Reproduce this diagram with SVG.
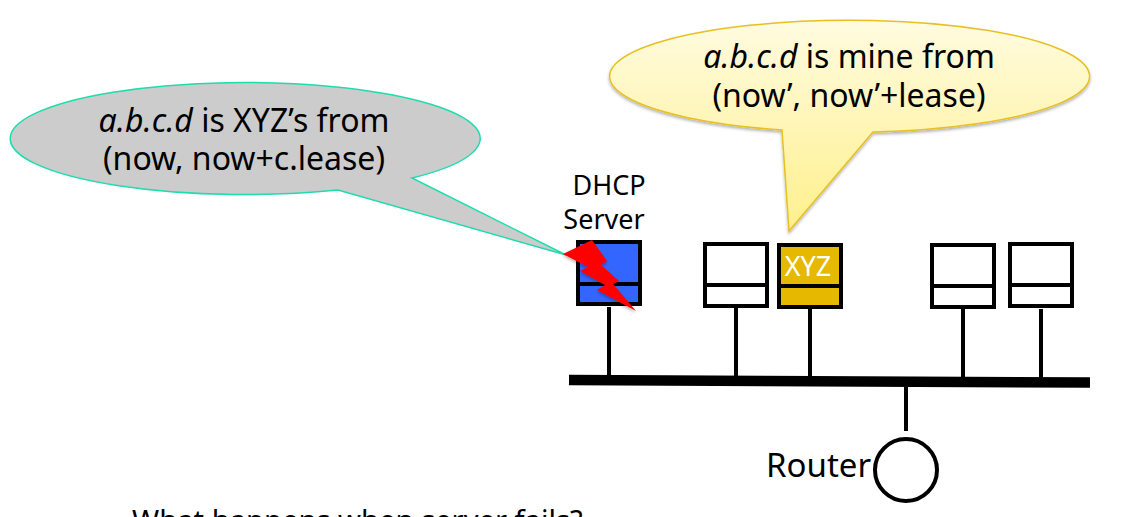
<svg xmlns="http://www.w3.org/2000/svg" width="1121" height="517" viewBox="0 0 1121 517">
<style>
text{font-family:"Noto Sans","DejaVu Sans",sans-serif;fill:#000}
.t{font-size:32px;text-anchor:middle}
.s{font-size:27px;text-anchor:middle}
.box{stroke:#000;stroke-width:4}
.ln{stroke:#000;stroke-width:4;fill:none}
</style>
<defs>
<linearGradient id="yg" x1="0" y1="0" x2="0" y2="1"><stop offset="0" stop-color="#fffbe0"/><stop offset="1" stop-color="#fff08c"/></linearGradient>
<filter id="sh" x="-5%" y="-5%" width="110%" height="115%"><feDropShadow dx="0" dy="2" stdDeviation="1.5" flood-color="#000" flood-opacity="0.3"/></filter>
</defs>
<rect width="1121" height="517" fill="#fff"/>
<g id="connectors">
<line class="ln" x1="609" y1="307" x2="609" y2="378"/>
<line class="ln" x1="736" y1="308" x2="736" y2="378"/>
<line class="ln" x1="810" y1="309" x2="810" y2="378"/>
<line class="ln" x1="963" y1="309" x2="963" y2="379"/>
<line class="ln" x1="1041" y1="309" x2="1041" y2="380"/>
<line x1="569" y1="380" x2="1090" y2="382.500" stroke="#000" stroke-width="10.500"/>
<line class="ln" x1="906" y1="387" x2="906" y2="431"/>
</g>
<g id="server">
<rect class="box" x="578" y="242" width="62" height="62" fill="#3366ff"/>
<line class="box" x1="578" y1="284" x2="640" y2="284"/>
<text class="s" x="609" y="195">DHCP</text>
<text class="s" x="604" y="229">Server</text>
</g>
<g id="host1">
<rect class="box" x="705" y="244" width="62" height="62" fill="#fff"/>
<line class="box" x1="705" y1="285" x2="767" y2="285"/>
</g>
<g id="xyz">
<rect class="box" x="779" y="245" width="62" height="62" fill="#e6b800"/>
<line class="box" x1="779" y1="286" x2="841" y2="286"/>
<text class="s" x="808" y="276" style="fill:#fff">XYZ</text>
</g>
<g id="host3">
<rect class="box" x="932" y="245" width="62" height="62" fill="#fff"/>
<line class="box" x1="932" y1="286" x2="994" y2="286"/>
</g>
<g id="host4">
<rect class="box" x="1010" y="244" width="62" height="62" fill="#fff"/>
<line class="box" x1="1010" y1="285" x2="1072" y2="285"/>
</g>
<g id="router">
<circle cx="906" cy="470" r="31" fill="#fff" stroke="#000" stroke-width="4"/>
<text x="766" y="477" font-size="33">Router</text>
</g>
<g id="callout-server">
<path d="M412,178 A235 56 0 1 0 338,190 L566,255 Z" fill="#cccccc" stroke="#1fdcae" stroke-width="1.500"/>
<text class="t" x="244" y="132"><tspan font-style="italic">a.b.c.d</tspan> is XYZ’s from</text>
<text class="t" x="244" y="170">(now, now+c.lease)</text>
</g>
<g id="callout-xyz">
<path d="M873,132 A240 56 0 1 0 782,130 L789,231 Z" fill="url(#yg)" stroke="#e8c020" stroke-width="1.500" filter="url(#sh)"/>
<text class="t" x="849" y="68"><tspan font-style="italic">a.b.c.d</tspan> is mine from</text>
<text class="t" x="849" y="107">(now’, now’+lease)</text>
</g>
<g id="fault">
<polygon points="563,254 592,240 607,261 601,265 619,281 613,284 636,311 597,290 605,285 580,271 588,267" fill="#ff0000" filter="url(#sh)"/>
</g>
<text x="132" y="531" font-size="29.200">What happens when server fails?</text>
</svg>
